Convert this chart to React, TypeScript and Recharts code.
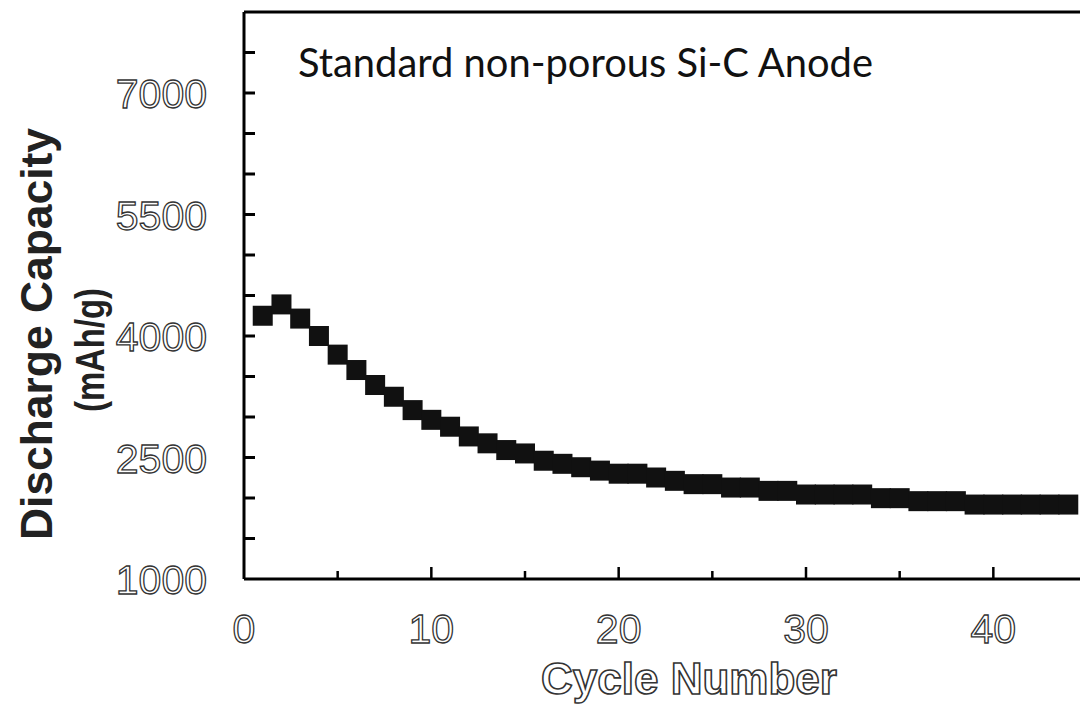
import React from 'react';
import { ScatterChart, Scatter, XAxis, YAxis, ReferenceLine } from 'recharts';

// cycle index and discharge capacity (mAh/g)
const cycles = [
  1, 2, 3, 4, 5, 6, 7, 8, 9, 10, 11, 12, 13, 14, 15, 16, 17, 18, 19, 20, 21, 22,
  23, 24, 25, 26, 27, 28, 29, 30, 31, 32, 33, 34, 35, 36, 37, 38, 39, 40, 41, 42, 43, 44,
];
const capacity = [
  4250, 4390, 4215, 4000, 3770, 3580, 3395, 3250, 3085, 2965, 2880, 2760, 2675, 2592,
  2550, 2460, 2422, 2380, 2338, 2300, 2300, 2253, 2212, 2171, 2171, 2129, 2129, 2088,
  2088, 2043, 2043, 2043, 2043, 1998, 1998, 1961, 1961, 1961, 1919, 1919, 1919, 1919,
  1919, 1919,
];
const xTicks = [0, 5, 10, 15, 20, 25, 30, 35, 40, 45];
const xLabels = [0, 10, 20, 30, 40];
const yTicks = [1000, 1500, 2000, 2500, 3000, 3500, 4000, 4500, 5000, 5500, 6000, 6500, 7000, 7500, 8000];
const yLabels = [1000, 2500, 4000, 5500, 7000];

const data = cycles.map((c, i) => ({ cycle: c, capacity: capacity[i] }));

const hollow = { fill: '#fff', stroke: '#333', strokeWidth: 1.3 };

const YTick = (props: any) => {
  const { x, y, payload } = props;
  const v = payload.value;
  const major = yLabels.includes(v);
  return (
    <g>
      {v !== 1000 && v !== 8000 && <line x1={x} x2={x + 11} y1={y} y2={y} stroke="#000" strokeWidth={3} />}
      {major && (
        <text x={207} y={y + 1} textAnchor="end" dominantBaseline="central"
          fontFamily="Liberation Sans, Arial, sans-serif" fontSize={41} {...hollow}>
          {v}
        </text>
      )}
    </g>
  );
};

const XTick = (props: any) => {
  const { x, y, payload } = props;
  const v = payload.value;
  const major = xLabels.includes(v);
  return (
    <g>
      {v !== 0 && <line x1={x} x2={x} y1={y} y2={y - (v % 10 === 0 ? 12 : 8)} stroke="#000" strokeWidth={2.5} />}
      {major && (
        <text x={x} y={y + 64} textAnchor="middle"
          fontFamily="Liberation Sans, Arial, sans-serif" fontSize={41} {...hollow}>
          {v}
        </text>
      )}
    </g>
  );
};

const Square = (props: any) => {
  const { cx, cy } = props;
  return <rect x={cx - 10} y={cy - 10} width={20} height={20} fill="#111" />;
};

export default function App() {
  return (
    <div style={{ position: 'fixed', left: 0, top: 0, width: 1080, height: 704, overflow: 'hidden', background: '#fff' }}>
      <ScatterChart width={1100} height={704} margin={{ top: 12, right: 13, left: 184, bottom: 65 }}>
        <XAxis type="number" dataKey="cycle" domain={[0, 45]} ticks={xTicks} height={60}
          axisLine={{ stroke: '#000', strokeWidth: 3 }} tickLine={false} tickSize={0} tickMargin={0}
          tick={<XTick />} interval={0} allowDataOverflow />
        <YAxis type="number" dataKey="capacity" domain={[1000, 8000]} ticks={yTicks} width={60}
          axisLine={{ stroke: '#000', strokeWidth: 3 }} tickLine={false} tickSize={0} tickMargin={0}
          tick={<YTick />} interval={0} allowDataOverflow />
        <ReferenceLine y={8000} stroke="#000" strokeWidth={3} />
        <Scatter data={data} shape={<Square />} isAnimationActive={false} />
        <text x={298} y={77} fontFamily="Lato, sans-serif" fontSize={40} fill="#111"
          textLength={575} lengthAdjust="spacingAndGlyphs">
          Standard non-porous Si-C Anode
        </text>
        <text x={689} y={694} textAnchor="middle" fontFamily="Liberation Sans, Arial, sans-serif"
          fontWeight="bold" fontSize={44} {...hollow} strokeWidth={1.6}>
          Cycle Number
        </text>
        <text transform="translate(52, 334) rotate(-90)" textAnchor="middle"
          fontFamily="Liberation Sans, Arial, sans-serif" fontWeight="bold" fontSize={44} fill="#222"
          textLength={412} lengthAdjust="spacingAndGlyphs">
          Discharge Capacity
        </text>
        <text transform="translate(104, 350) rotate(-90)" textAnchor="middle"
          fontFamily="Liberation Sans, Arial, sans-serif" fontWeight="bold" fontSize={40} fill="#222"
          textLength={124} lengthAdjust="spacingAndGlyphs">
          (mAh/g)
        </text>
      </ScatterChart>
    </div>
  );
}
